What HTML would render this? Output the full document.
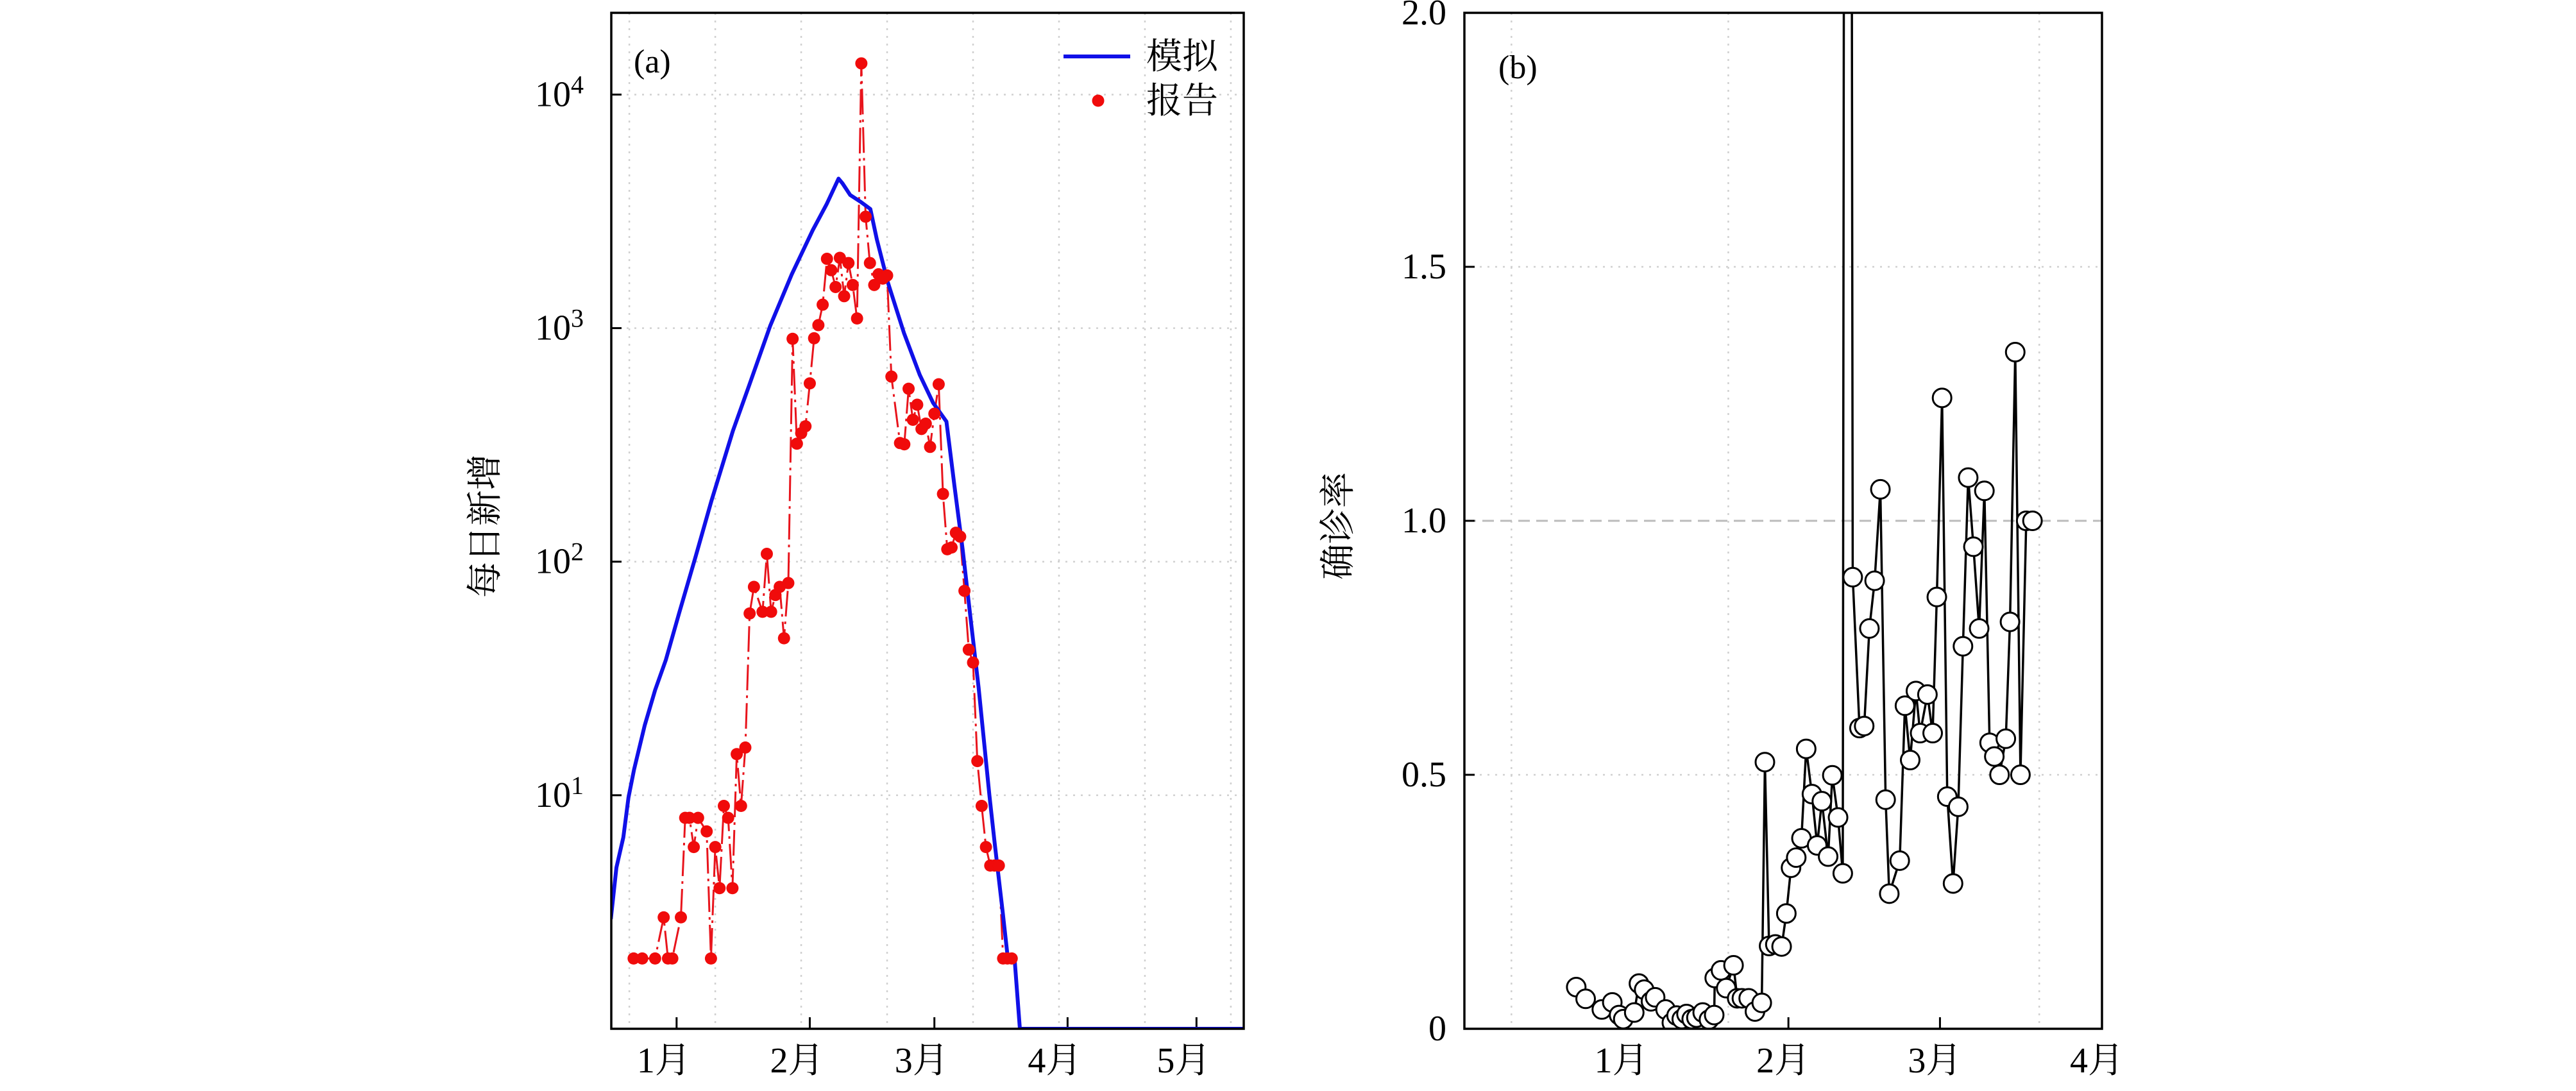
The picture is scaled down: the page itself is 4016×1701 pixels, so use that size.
<!DOCTYPE html>
<html><head><meta charset="utf-8">
<style>
html,body{margin:0;padding:0;background:#fff;}
svg{display:block;}
text{font-family:"Liberation Serif","Noto Serif CJK SC","Noto Sans CJK SC",serif;fill:#000;}
</style></head>
<body>
<svg id="chart" width="4016" height="1701" viewBox="0 0 4016 1701" xmlns="http://www.w3.org/2000/svg">
<defs>
<clipPath id="clipA"><rect x="953" y="20" width="986" height="1584"/></clipPath>
<clipPath id="clipB"><rect x="2283" y="20" width="994" height="1584"/></clipPath>
</defs>
<g id="panelA"></g>
<g id="panelB"></g>
</svg>
<script>
// ---------- Panel (a) data ----------
const repDays = [-10,-8,-5,-3,-2,-1,1,2,3,4,5,7,8,9,10,11,12,13,14,15,16,17,18,20,21,22,23,24,25,26,27,28,29,30,31,32,33,34,35,36,37,38,39,40,41,42,43,44,45,46,47,48,49,50,52,53,54,55,56,57,58,59,60,61,62,63,64,65,66,67,68,69,70,71,72,73,74,75,76,77,78];
const repVals = [2,2,2,3,2,2,3,8,8,6,8,7,2,6,4,9,8,4,15,9,16,60,78,61,108,61,72,78,47,81,900,320,355,380,580,905,1030,1260,1980,1770,1500,2000,1370,1900,1530,1100,13600,3000,1900,1530,1700,1630,1680,620,322,318,550,405,470,370,390,310,430,575,195,113,115,133,128,75,42,37,14,9,6,5,5,5,2,2,2,2];
const simDays = [-15.3,-14,-12.4,-11.2,-9.9,-7.4,-5,-2.5,0.6,4.4,8.1,13.1,16.8,21.8,26.8,31.7,34.9,37.7,38.6,40.4,42.9,45.1,46.6,49.1,52.9,56.6,59.7,62.8,64.7,66.6,68.4,70.3,72.8,74,75.9,77.1,78.7,79.9,133];
const simLog = [0.47,0.69,0.82,0.99,1.11,1.30,1.45,1.58,1.78,2.02,2.26,2.56,2.75,3.01,3.23,3.42,3.53,3.64,3.62,3.57,3.54,3.51,3.38,3.20,2.98,2.80,2.68,2.60,2.32,2.05,1.76,1.46,1.00,0.80,0.50,0.30,0.29,0,0];
const aYTicks = [1,2,3,4];
const aMonthDays = [0,31,60,91,121];
const aMonthLabels = ["1月","2月","3月","4月","5月"];
const aGridDays = [-11,9,29,49,69,89,109,129];

// ---------- Panel (b) data ----------
const rateDays = [-9.6,-7.8,-4.7,-2.7,-1.4,-0.6,1.5,2.4,3.4,4.7,5.5,7.5,8.7,9.6,10.6,11.5,12.5,13.4,14.6,15.8,16.8,16.9,18.1,19.1,20.5,21.2,22.1,23.4,24.6,25.9,26.5,27.3,28.5,29.7,30.6,31.5,32.5,33.5,34.4,35.5,36.5,37.4,38.6,39.4,40.5,41.4,42.3,43.3,44.6,45.5,46.5,47.5,48.6,49.6,50.3,52.3,53.3,54.3,55.4,56.2,57.6,58.6,59.4,60.4,61.4,62.5,63.5,64.4,65.4,66.4,67.5,68.5,69.5,70.4,71.4,72.6,73.4,74.4,75.4,76.5,77.7];
const rateVals = [0.082,0.059,0.038,0.052,0.027,0.019,0.032,0.089,0.077,0.054,0.062,0.038,0.012,0.026,0.019,0.029,0.019,0.022,0.032,0.018,0.027,0.100,0.115,0.080,0.125,0.060,0.060,0.060,0.034,0.051,0.525,0.163,0.166,0.162,0.227,0.317,0.337,0.375,0.551,0.462,0.361,0.448,0.339,0.499,0.416,0.306,8,0.889,0.592,0.596,0.788,0.882,1.062,0.451,0.266,0.331,0.636,0.529,0.665,0.582,0.658,0.582,0.850,1.242,0.457,0.286,0.437,0.753,1.085,0.949,0.788,1.059,0.563,0.536,0.500,0.571,0.801,1.332,0.500,1.0,1.0];
const bYTicks = [0,0.5,1.0,1.5,2.0];
const bYLabels = ["0","0.5","1.0","1.5","2.0"];
const bMonthDays = [0,31,60,91];
const bMonthLabels = ["1月","2月","3月","4月"];
const bGridDays = [-22,19.5,79];

const NS = "http://www.w3.org/2000/svg";
function mk(parent, tag, attrs, text){
  const e = document.createElementNS(NS, tag);
  for (const k in attrs) e.setAttribute(k, attrs[k]);
  if (text !== undefined) e.textContent = text;
  parent.appendChild(e);
  return e;
}

// ---------- Panel (a) ----------
(function(){
  const g = document.getElementById('panelA');
  const L=953,R=1939,T=20,B=1604;
  const d0=-15.2, d1=132;
  const xA = d => L + (d-d0)/(d1-d0)*(R-L);
  const yA = lg => B - lg/4.35*(B-T);
  aGridDays.forEach(d=>{
    const l = mk(g,'line',{x1:xA(d),x2:xA(d),y1:T,y2:B,stroke:'#d0d0d0','stroke-width':2.5,'stroke-dasharray':'3,9'});
    
    
  });
  aYTicks.forEach(t=>{
    const l = mk(g,'line',{x1:L,x2:R,y1:yA(t),y2:yA(t),stroke:'#d0d0d0','stroke-width':2.5,'stroke-dasharray':'3,9'});
    
    
    const tk = mk(g,'line',{x1:L,x2:L+16,y1:yA(t),y2:yA(t),stroke:'#000','stroke-width':3});
    
    
    const tx = mk(g,'text',{x:910,y:yA(t)+18,'font-size':56,'text-anchor':'end'},'10');
    
    
    mk(tx,'tspan',{dy:-20,'font-size':40},String(t));
  });
  aMonthDays.forEach((d,i)=>{
    const tk = mk(g,'line',{x1:xA(d),x2:xA(d),y1:B,y2:B-18,stroke:'#000','stroke-width':3});
    
    
    const tx = mk(g,'text',{x:xA(d)-20,y:1672,'font-size':56,'text-anchor':'middle'},aMonthLabels[i]);
    
    
  });
  const cg = mk(g,'g',{'clip-path':'url(#clipA)'});
  const rp = repDays.map((d,i)=>xA(d).toFixed(1)+','+yA(Math.log10(repVals[i])).toFixed(1)).join(' ');
  const rl = mk(cg,'polyline',{points:rp,fill:'none',stroke:'#e8141c','stroke-width':3,'stroke-dasharray':'40,8,4,8'});
  
  
  const sp = simDays.map((d,i)=>xA(d).toFixed(1)+','+yA(simLog[i]).toFixed(1)).join(' ');
  const sl = mk(cg,'polyline',{points:sp,fill:'none',stroke:'#1010e8','stroke-width':6,'stroke-linejoin':'round'});
  
  
  repDays.forEach((d,i)=>{
    const c = mk(cg,'circle',{cx:xA(d),cy:yA(Math.log10(repVals[i])),r:9.5,fill:'#f00b0b'});
    
    
  });
  const fr = mk(g,'rect',{x:L,y:T,width:R-L,height:B-T,fill:'none',stroke:'#000','stroke-width':3.5});
  
  
  const lab = mk(g,'text',{x:988,y:113,'font-size':52},'(a)');
  
  
  const yl = mk(g,'text',{x:0,y:0,'font-size':56,'text-anchor':'middle',transform:'translate(775,820) rotate(-90)'},'每日新增');
  
  
  const lg = mk(g,'g',{});
  
  
  const l1 = mk(lg,'line',{x1:1658,x2:1762,y1:88,y2:88,stroke:'#1010e8','stroke-width':6});
  
  
  const t1 = mk(lg,'text',{x:1787,y:107,'font-size':56},'模拟');
  
  
  const c1 = mk(lg,'circle',{cx:1712,cy:157,r:9.5,fill:'#f00b0b'});
  
  
  const t2 = mk(lg,'text',{x:1787,y:176,'font-size':56},'报告');
  
  
})();

// ---------- Panel (b) ----------
(function(){
  const g = document.getElementById('panelB');
  const L=2283,R=3277,T=20,B=1604;
  const d0=-31, d1=91;
  const xB = d => L + (d-d0)/(d1-d0)*(R-L);
  const yB = v => B - v/2*(B-T);
  bGridDays.forEach(d=>{
    const l = mk(g,'line',{x1:xB(d),x2:xB(d),y1:T,y2:B,stroke:'#d0d0d0','stroke-width':2.5,'stroke-dasharray':'3,9'});
    
    
  });
  bYTicks.forEach((t,i)=>{
    if (t===0.5 || t===1.5){
      const l = mk(g,'line',{x1:L,x2:R,y1:yB(t),y2:yB(t),stroke:'#d0d0d0','stroke-width':2.5,'stroke-dasharray':'3,9'});
      
      
    }
    if (t===1.0){
      const l = mk(g,'line',{x1:L,x2:R,y1:yB(t),y2:yB(t),stroke:'#bbbbbb','stroke-width':3,'stroke-dasharray':'18,10'});
      
      
    }
    const tk = mk(g,'line',{x1:L,x2:L+16,y1:yB(t),y2:yB(t),stroke:'#000','stroke-width':3});
    
    
    const tx = mk(g,'text',{x:2255,y:yB(t)+18,'font-size':56,'text-anchor':'end'},bYLabels[i]);
    
    
  });
  bMonthDays.forEach((d,i)=>{
    const tk = mk(g,'line',{x1:xB(d),x2:xB(d),y1:B,y2:B-18,stroke:'#000','stroke-width':3});
    
    
    const tx = mk(g,'text',{x:xB(d)-8,y:1672,'font-size':56,'text-anchor':'middle'},bMonthLabels[i]);
    
    
  });
  const cg = mk(g,'g',{'clip-path':'url(#clipB)'});
  const pp = rateDays.map((d,i)=>xB(d).toFixed(1)+','+yB(rateVals[i]).toFixed(1)).join(' ');
  const pl = mk(cg,'polyline',{points:pp,fill:'none',stroke:'#000','stroke-width':3.5,'stroke-linejoin':'round'});
  
  
  rateDays.forEach((d,i)=>{
    const c = mk(cg,'circle',{cx:xB(d),cy:yB(rateVals[i]),r:14.5,fill:'#fff',stroke:'#000','stroke-width':3});
    
    
  });
  const fr = mk(g,'rect',{x:L,y:T,width:R-L,height:B-T,fill:'none',stroke:'#000','stroke-width':3.5});
  
  
  const lab = mk(g,'text',{x:2336,y:122,'font-size':52},'(b)');
  
  
  const yl = mk(g,'text',{x:0,y:0,'font-size':56,'text-anchor':'middle',transform:'translate(2105,820) rotate(-90)'},'确诊率');
  
  
})();
</script>
</body></html>
